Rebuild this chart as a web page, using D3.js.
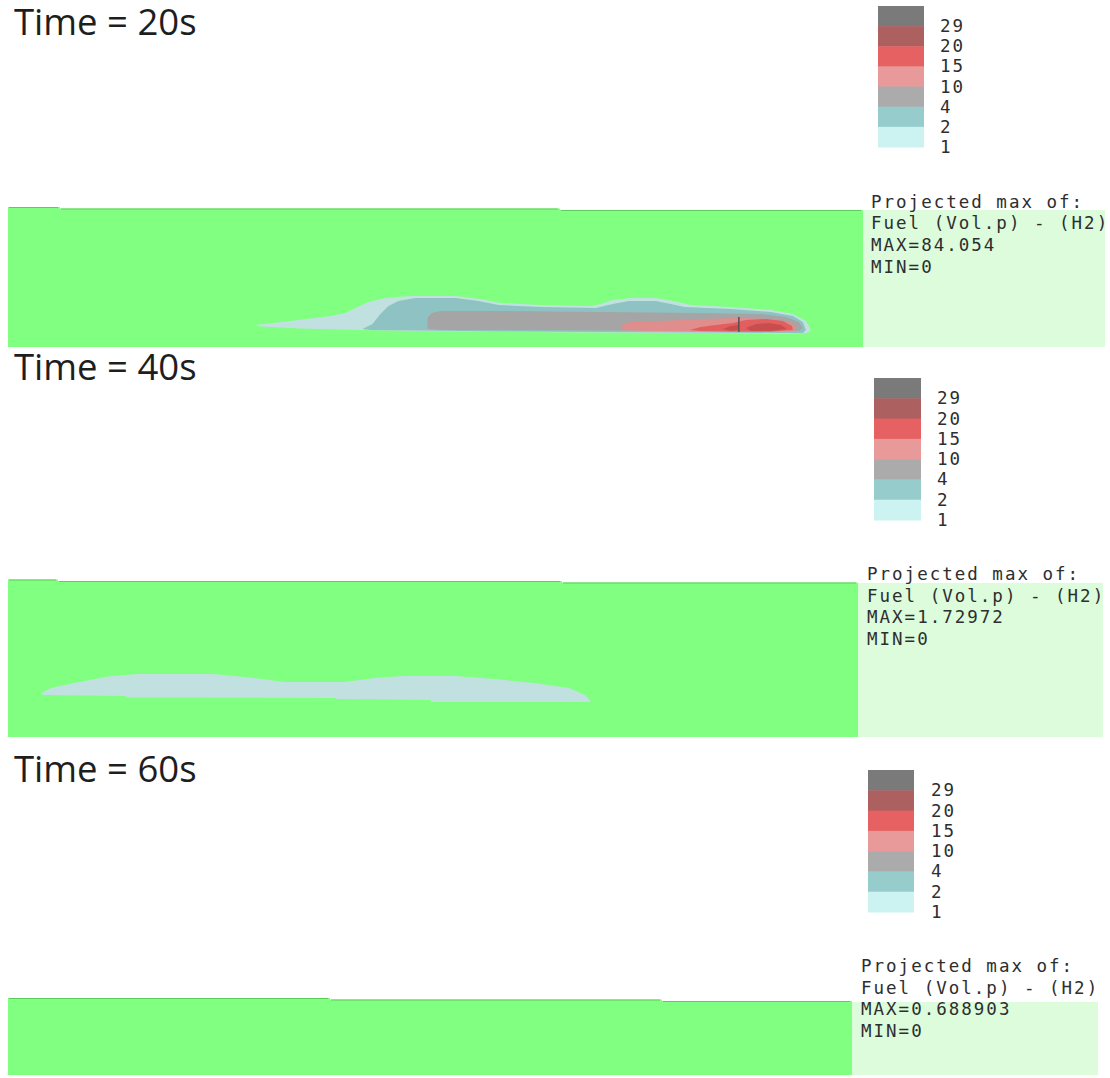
<!DOCTYPE html>
<html>
<head>
<meta charset="utf-8">
<script src="https://cdn.jsdelivr.net/npm/d3@7"></script>
<style>
  html, body { margin: 0; padding: 0; background: #ffffff; }
  svg { display: block; }
</style>
</head>
<body>
<svg id="chart" width="1110" height="1078"></svg>
<script>
// Hydrogen release: projected max of fuel volume percent at three instants.

// Contour levels (vol.%) and their colours
const levels = [1, 2, 4, 10, 15, 20, 29];
const legendColors = ["#ccf2f2", "#96cccc", "#ababab", "#e89a9a", "#e66262", "#ad6060", "#7a7a7a"];
const plumeColors  = ["#c1e1e0", "#8fc3c3", "#a5a5a5", "#df8d8d", "#e25f5f", "#c84e4e", "#707070"];

// Snapshot times (s) and reported extremes
const times = [20, 40, 60];
const maxValues = ["84.054", "1.72972", "0.688903"];
const minValues = ["0", "0", "0"];

// Domain extent along the ground (m)
const domainLength = 170.8;

// Iso-surfaces at t = 20 s, [x (m), z (m)]
const plume20_level1 = [[49.4,4.4],[56.4,5.2],[64.4,6.2],[67.4,6.8],[69.4,7.8],[72.0,9.0],[75.4,9.8],[80.4,10.2],[89.4,10.2],[94.4,9.6],[98.4,8.8],[106.4,8.4],[116.4,8.2],[118.4,8.6],[120.8,9.4],[124.4,9.8],[129.4,9.8],[132.8,9.2],[136.4,8.4],[144.4,8.0],[152.4,7.4],[156.8,6.6],[159.4,5.2],[160.4,3.4],[159.8,2.8],[154.4,2.6],[138.4,2.8],[118.4,2.9],[98.4,3.0],[82.4,3.2],[70.4,3.4],[58.4,3.7],[50.4,4.1]];
const plume20_level2 = [[70.8,3.6],[72.8,4.6],[74.4,6.6],[76.0,8.2],[78.0,9.2],[81.4,9.8],[89.4,9.8],[94.0,9.2],[98.0,8.4],[106.4,8.0],[117.4,7.8],[120.8,8.6],[124.0,9.2],[129.4,9.2],[132.4,8.6],[135.2,8.0],[144.4,7.6],[152.4,7.0],[156.8,6.2],[158.8,5.0],[159.4,3.4],[158.8,2.8],[154.4,2.8],[138.4,2.9],[118.4,3.0],[98.4,3.1],[82.4,3.3],[72.4,3.4]];
const plume20_level4 = [[83.8,3.6],[83.8,5.8],[84.6,6.8],[86.4,7.2],[98.4,7.2],[118.4,7.0],[138.4,6.8],[150.4,6.6],[155.4,6.0],[158.0,5.0],[158.8,3.8],[158.0,3.2],[150.4,3.1],[138.4,3.2],[118.4,3.3],[98.4,3.4],[86.4,3.4]];
const plume20_level10 = [[122.4,3.4],[122.6,4.4],[124.4,5.0],[130.4,5.2],[138.4,5.6],[146.4,5.8],[152.4,5.6],[156.0,5.0],[157.6,4.0],[157.0,3.2],[150.4,3.1],[138.4,3.1],[128.4,3.2]];
const plume20_level15 = [[136.2,3.4],[138.4,4.0],[141.4,4.4],[144.8,4.8],[147.4,5.4],[151.4,5.6],[154.8,5.2],[156.6,4.2],[156.8,3.4],[152.4,3.1],[144.4,3.1],[138.4,3.2]];
const plume20_level20a = [[142.8,3.6],[144.4,4.2],[145.8,4.4],[146.0,3.4],[144.4,3.2]];
const plume20_level20b = [[147.4,3.8],[149.4,4.6],[152.0,4.8],[154.4,4.4],[155.6,3.6],[152.4,3.2],[148.4,3.2]];
const source20 = [[146.0,3.0],[146.0,6.0]];

// Iso-surface at t = 40 s
const plume40_level1 = [[6.73,8.84],[8.64,9.85],[14.27,11.05],[20.70,12.26],[26.12,12.66],[41.19,12.66],[47.62,12.06],[55.66,11.05],[67.52,11.05],[73.75,11.86],[79.37,12.26],[89.82,12.26],[97.66,11.65],[105.69,10.85],[112.73,9.85],[115.94,8.44],[117.15,7.23],[116.75,7.03],[85.0,7.03],[85.0,7.43],[65.91,7.64],[65.91,7.84],[23.71,7.94],[23.71,8.24],[7.03,8.44]];

// Contours per snapshot: [level index, polygon]
const contours = [
  [[0, plume20_level1], [1, plume20_level2], [2, plume20_level4], [3, plume20_level10],
   [4, plume20_level15], [5, plume20_level20a], [5, plume20_level20b]],
  [[0, plume40_level1]],
  []
];
const sources = [source20, null, null];

// Page layout of the three snapshot panels
const layout = [
  { titleY: 35, legend: { x: 878, y: 6, w: 46, h: 141, labelX: 940 },
    field: { x0: 8, x1: 863, bottom: 347, steps: [[8, 60, 207], [60, 560, 208.5], [560, 863, 210]] },
    box: { x1: 1105, top: 210 }, text: { x: 871, y: 207.5 } },
  { titleY: 380, legend: { x: 874, y: 378, w: 47, h: 142, labelX: 937 },
    field: { x0: 8, x1: 858, bottom: 737, steps: [[8, 58, 579.5], [58, 562, 581], [562, 858, 582.5]] },
    box: { x1: 1103, top: 583 }, text: { x: 867, y: 580 } },
  { titleY: 782, legend: { x: 868, y: 770, w: 46, h: 142, labelX: 931 },
    field: { x0: 8, x1: 852, bottom: 1075, steps: [[8, 330, 998], [330, 662, 999.5], [662, 852, 1001]] },
    box: { x1: 1098, top: 1002 }, text: { x: 861, y: 972 } }
];

const svg = d3.select("#chart");
const defs = svg.append("defs");
const monoFont = "'DejaVu Sans Mono', 'Liberation Mono', monospace";
const lineGap = 21.7;

times.forEach((t, i) => {
  const L = layout[i];
  const g = svg.append("g").attr("class", "snapshot");

  // Title
  g.append("text")
    .attr("x", 14).attr("y", L.titleY)
    .attr("font-family", "'Open Sans', 'Noto Sans', sans-serif")
    .attr("font-size", 36.5)
    .attr("fill", "#1e1e1e")
    .text(`Time = ${t}s`);

  // Colour legend, highest level on top
  const order = levels.map((d, k) => k).reverse();
  const band = d3.scaleBand().domain(order).range([L.legend.y, L.legend.y + L.legend.h]);
  const lg = g.append("g").attr("class", "legend");
  lg.selectAll("rect").data(order).join("rect")
    .attr("x", L.legend.x).attr("y", k => band(k))
    .attr("width", L.legend.w).attr("height", band.bandwidth() + 0.5)
    .attr("fill", k => legendColors[k]);
  lg.selectAll("text").data(order).join("text")
    .attr("x", L.legend.labelX)
    .attr("y", k => band(k) + band.bandwidth() + 6)
    .attr("font-family", monoFont).attr("font-size", 17.5)
    .attr("letter-spacing", 2)
    .attr("fill", "#2e2e2e")
    .text(k => levels[k]);

  // Field: projected plane
  const F = L.field;
  const width = F.x1 - F.x0;
  const k = width / domainLength;
  const x = d3.scaleLinear().domain([0, domainLength]).range([F.x0, F.x1]);
  const top = d3.min(F.steps, s => s[2]);
  const y = d3.scaleLinear().domain([0, (F.bottom - top) / k]).range([F.bottom, top]);

  const outline = [[F.x0, F.bottom]];
  F.steps.forEach(s => { outline.push([s[0], s[2]], [s[1], s[2]]); });
  outline.push([F.x1, F.bottom]);
  g.append("path")
    .attr("d", d3.line()(outline) + "Z")
    .attr("fill", "#80ff80");
  F.steps.forEach(s => {
    g.append("line")
      .attr("x1", s[0] + 1).attr("x2", s[1] - 2)
      .attr("y1", s[2] + 0.5).attr("y2", s[2] + 0.5)
      .attr("stroke", "#5ecb5e").attr("stroke-width", 1.2);
  });

  const clipId = `clip${i}`;
  defs.append("clipPath").attr("id", clipId)
    .append("path").attr("d", d3.line()(outline) + "Z");

  const line = d3.line().x(d => x(d[0])).y(d => y(d[1]));
  const pg = g.append("g").attr("clip-path", `url(#${clipId})`);
  pg.selectAll("path.iso").data(contours[i]).join("path")
    .attr("class", "iso")
    .attr("d", d => line(d[1]) + "Z")
    .attr("fill", d => plumeColors[d[0]]);
  if (sources[i]) {
    pg.append("path")
      .attr("d", line(sources[i]))
      .attr("stroke", "#505050").attr("stroke-width", 1.5).attr("fill", "none");
  }

  // Info box
  g.append("rect")
    .attr("x", F.x1).attr("y", L.box.top)
    .attr("width", L.box.x1 - F.x1).attr("height", F.bottom - L.box.top)
    .attr("fill", "#dcfcdc");
  const info = ["Projected max of:", "Fuel (Vol.p) - (H2)", `MAX=${maxValues[i]}`, `MIN=${minValues[i]}`];
  g.selectAll("text.info").data(info).join("text")
    .attr("class", "info")
    .attr("x", L.text.x).attr("y", (d, j) => L.text.y + j * lineGap)
    .attr("font-family", monoFont).attr("font-size", 17.5)
    .attr("letter-spacing", 2)
    .attr("fill", "#2e2e2e")
    .text(d => d);
});
</script>
</body>
</html>
